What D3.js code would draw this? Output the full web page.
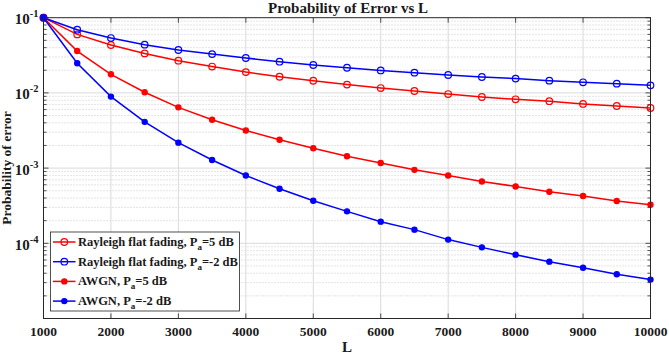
<!DOCTYPE html>
<html><head><meta charset="utf-8">
<script src="https://cdn.jsdelivr.net/npm/d3@7"></script>
<style>body{margin:0;background:#fff}svg{display:block}text{font-family:"Liberation Serif","DejaVu Serif",serif;font-weight:bold;fill:#1a1a1a}</style>
</head><body><svg id="c" width="669" height="354"></svg>
<script>
const L = [1000,1500,2000,2500,3000,3500,4000,4500,5000,5500,6000,6500,7000,7500,8000,8500,9000,9500,10000];
const rayleigh5 = [0.1,0.060,0.0433,0.0335,0.0268,0.0224,0.0189,0.0164,0.0145,0.0129,0.0116,0.0106,0.00966,0.00882,0.00822,0.00775,0.00713,0.0067,0.0063];
const rayleighM2 = [0.1,0.0693,0.0536,0.0438,0.0372,0.0328,0.0291,0.026,0.0235,0.0216,0.0199,0.0186,0.0173,0.01626,0.0155,0.01455,0.01383,0.01328,0.0126];
const awgn5 = [0.1,0.036,0.01767,0.0102,0.00642,0.0044,0.00316,0.00238,0.00184,0.00144,0.00117,0.000948,0.000797,0.000664,0.00057,0.000484,0.000425,0.000365,0.000326];
const awgnM2 = [0.1,0.0248,0.00893,0.00412,0.00218,0.00128,0.000798,0.000531,0.000368,0.000266,0.000194,0.000152,0.000112,8.83e-5,7.06e-5,5.7e-5,4.74e-5,3.87e-5,3.29e-5];
const xTicks = [1000,2000,3000,4000,5000,6000,7000,8000,9000,10000];
const yTickExp = [-1,-2,-3,-4];
const series = [
  {name:"Rayleigh flat fading, P", sub:"a", tail:"=5 dB", values:rayleigh5, color:"#ff0000", open:true},
  {name:"Rayleigh flat fading, P", sub:"a", tail:"=-2 dB", values:rayleighM2, color:"#0000ff", open:true},
  {name:"AWGN, P", sub:"a", tail:"=5 dB", values:awgn5, color:"#ff0000", open:false},
  {name:"AWGN, P", sub:"a", tail:"=-2 dB", values:awgnM2, color:"#0000ff", open:false}
];

const svg = d3.select("#c");
const x0=43.5, x1=650.5, y0=318.5, y1=17.7;
const x = d3.scaleLinear().domain([1000,10000]).range([x0,x1]);
const y = d3.scaleLog().domain([1e-5,1e-1]).range([y0,y1]);

// grid
const g = svg.append("g");
const minor=[];
for(let e=-5;e<-1;e++) for(let k=2;k<=9;k++) minor.push(k*Math.pow(10,e));
g.selectAll(".mn").data(minor).join("line").attr("x1",x0).attr("x2",x1)
  .attr("y1",d=>y(d)).attr("y2",d=>y(d)).attr("stroke","#bdbdbd").attr("stroke-width",0.8).attr("stroke-dasharray","1,2");
g.selectAll(".mj").data([-2,-3,-4]).join("line").attr("x1",x0).attr("x2",x1)
  .attr("y1",d=>y(Math.pow(10,d))).attr("y2",d=>y(Math.pow(10,d))).attr("stroke","#dadada").attr("stroke-width",1);
g.selectAll(".vx").data(xTicks.slice(1,-1)).join("line").attr("y1",y0).attr("y2",y1)
  .attr("x1",d=>x(d)).attr("x2",d=>x(d)).attr("stroke","#dadada").attr("stroke-width",1);

// ticks (inside)
const tk = svg.append("g").attr("stroke","#262626").attr("stroke-width",0.8);
xTicks.forEach(v=>{
  tk.append("line").attr("x1",x(v)).attr("x2",x(v)).attr("y1",y0).attr("y2",y0-5);
  tk.append("line").attr("x1",x(v)).attr("x2",x(v)).attr("y1",y1).attr("y2",y1+5);
});
[-5,-4,-3,-2,-1].forEach(e=>{
  const v=Math.pow(10,e);
  tk.append("line").attr("x1",x0).attr("x2",x0+5).attr("y1",y(v)).attr("y2",y(v));
  tk.append("line").attr("x1",x1).attr("x2",x1-5).attr("y1",y(v)).attr("y2",y(v));
});
minor.forEach(v=>{
  tk.append("line").attr("x1",x0).attr("x2",x0+3).attr("y1",y(v)).attr("y2",y(v));
  tk.append("line").attr("x1",x1).attr("x2",x1-3).attr("y1",y(v)).attr("y2",y(v));
});

// lines
const line = d3.line().x((d,i)=>x(L[i])).y(d=>y(d));
series.forEach(s=>{
  svg.append("path").datum(s.values).attr("d",line).attr("fill","none").attr("stroke",s.color).attr("stroke-width",1.5);
  svg.selectAll(null).data(s.values).join("circle").attr("cx",(d,i)=>x(L[i])).attr("cy",d=>y(d))
    .attr("r",s.open?3.3:2.6).attr("fill",s.open?"none":s.color).attr("stroke",s.color).attr("stroke-width",1.2);
});

// frame
svg.append("rect").attr("x",x0).attr("y",y1).attr("width",x1-x0).attr("height",y0-y1)
  .attr("fill","none").attr("stroke","#262626").attr("stroke-width",1);

// tick labels
svg.selectAll(".xl").data(xTicks).join("text").attr("x",d=>x(d)).attr("y",y0+17)
  .attr("text-anchor","middle").attr("font-size",13.5).text(d=>d);
yTickExp.forEach(e=>{
  const t=svg.append("text").attr("x",x0-5).attr("y",y(Math.pow(10,e))+6.5).attr("text-anchor","end").attr("font-size",15);
  t.append("tspan").text("10");
  t.append("tspan").attr("dy",-7).attr("font-size",10.5).text(String(e));
});

// titles
svg.append("text").attr("x",348).attr("y",13).attr("text-anchor","middle").attr("font-size",15).text("Probability of Error vs L");
svg.append("text").attr("x",347).attr("y",352).attr("text-anchor","middle").attr("font-size",15).text("L");
svg.append("text").attr("transform",`translate(11,${(y0+y1)/2}) rotate(-90)`).attr("text-anchor","middle").attr("font-size",13.5).text("Probability of error");

// legend
const lg = svg.append("g");
lg.append("rect").attr("x",50.5).attr("y",232).attr("width",189).attr("height",79).attr("fill","#fff").attr("stroke","#262626").attr("stroke-width",0.8);
series.forEach((s,i)=>{
  const cy = 242+i*19.7;
  lg.append("line").attr("x1",53).attr("x2",75.5).attr("y1",cy).attr("y2",cy).attr("stroke",s.color).attr("stroke-width",1.5);
  lg.append("circle").attr("cx",64.3).attr("cy",cy).attr("r",s.open?3.3:2.6).attr("fill",s.open?"none":s.color).attr("stroke",s.color).attr("stroke-width",1.2);
  const t = lg.append("text").attr("x",78).attr("y",cy+4).attr("font-size",12.5);
  t.append("tspan").text(s.name);
  t.append("tspan").attr("dy",4).attr("font-size",9).text(s.sub);
  t.append("tspan").attr("dy",-4).text(s.tail);
});
</script></body></html>
